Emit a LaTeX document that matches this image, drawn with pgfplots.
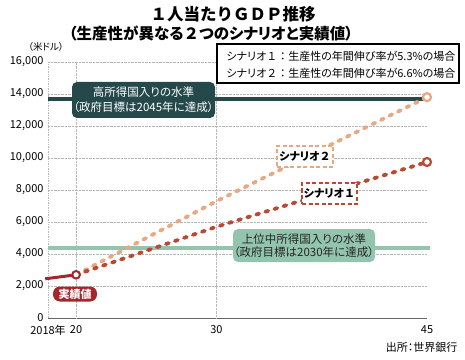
\documentclass[border=0pt]{standalone}
\usepackage{fontspec}
\setmainfont{Noto Sans CJK JP}[RawFeature=+palt]
\newfontfamily\fw{Noto Sans CJK JP}
\usepackage{pgfplots}
\pgfplotsset{compat=1.18}
\definecolor{darkteal}{RGB}{37,72,75}
\definecolor{greenl}{RGB}{147,196,174}
\definecolor{actred}{RGB}{163,38,44}
\definecolor{scenA}{RGB}{184,74,51}
\definecolor{scenB}{RGB}{232,168,130}
\definecolor{gridc}{RGB}{185,185,185}
\begin{document}
\begin{tikzpicture}[x=1pt,y=1pt]
\useasboundingbox (0,0) rectangle (465,359);
\begin{axis}[at={(48pt,41pt)}, anchor=south west, scale only axis,
  width=379pt, height=256pt,
  xmin=2018, xmax=2045, ymin=0, ymax=16000, clip=false,
  axis x line*=bottom, axis y line*=left,
  x axis line style={draw=gray!80!black, line width=0.8pt},
  y axis line style={draw=gridc, densely dotted, line width=0.7pt},
  xtick={2018,2020,2030,2045}, xticklabels={2018年,20,30,45},
  extra x ticks={2020,2030}, extra x tick labels={},
  extra x tick style={xmajorgrids=true, major tick length=0pt},
  ytick={0,2000,...,16000}, ymajorgrids,
  grid style={gridc, densely dotted, line width=0.7pt},
  major tick length=0pt,
  /pgf/number format/assume math mode=true,
  /pgf/number format/1000 sep={,},
  scaled y ticks=false,
  ticklabel style={font=\fontsize{11}{12}\selectfont},
  yticklabel style={xshift=-1pt},
  xticklabel style={yshift=-4pt},
]
\addplot[darkteal, line width=4pt] coordinates {(2018,13700) (2045,13700)};
\addplot[greenl, line width=4pt] coordinates {(2018,4400) (2045.2,4400)};
\addplot[scenB, line width=3.8pt, line cap=round, dash pattern=on 3pt off 6.5pt] coordinates {(2020,2700) (2030,7300) (2045,13800)};
\addplot[scenA, line width=3.8pt, line cap=round, dash pattern=on 3pt off 6.5pt] coordinates {(2020,2700) (2030,5700) (2045,9750)};
\addplot[actred, line width=3pt] coordinates {(2017.8,2450) (2020,2700)};
\addplot[only marks, mark=*, mark size=4pt, mark options={fill=white, draw=scenB, line width=2.2pt}] coordinates {(2045,13800)};
\addplot[only marks, mark=*, mark size=4pt, mark options={fill=white, draw=scenA, line width=2.2pt}] coordinates {(2045,9750)};
\addplot[only marks, mark=*, mark size=3.8pt, mark options={fill=white, draw=actred, line width=2pt}] coordinates {(2020,2700)};
\end{axis}
% labels
\node[font=\fw\bfseries\fontsize{16.5}{18}\selectfont, anchor=center] at (233,345) {１人当たりＧＤＰ推移};
\node[font=\bfseries\fontsize{15.5}{18}\selectfont, anchor=center] at (211,325) {（生産性が異なる{\fw ２}つのシナリオと実績値）};
\node[font=\fontsize{9.5}{10}\selectfont] at (46,312) {（米ドル）};
\node[draw=black, line width=1.6pt, fill=white, minimum width=242pt, minimum height=39pt, inner sep=0pt] at (338,295.5) {};
\node[anchor=west, font=\fontsize{11}{12}\selectfont] at (223,303) {シナリオ{\fw １：}生産性の年間伸び率が5.3\%の場合};
\node[anchor=west, font=\fontsize{11}{12}\selectfont] at (223,286) {シナリオ{\fw ２：}生産性の年間伸び率が6.6\%の場合};
\node[fill=darkteal, rounded corners=5pt, minimum width=143pt, minimum height=36pt, inner sep=0pt, text=white, align=center, font=\fontsize{11.5}{15}\selectfont] at (143.5,259) {高所得国入りの水準\\（政府目標は2045年に達成）};
\node[fill=greenl, rounded corners=5pt, minimum width=142pt, minimum height=33pt, inner sep=0pt, text=black!85, align=center, font=\fontsize{11.5}{13}\selectfont] at (304,113.5) {上位中所得国入りの水準\\（政府目標は2030年に達成）};
\node[fill=actred, rounded corners=7pt, minimum width=44pt, minimum height=15pt, inner sep=0pt, text=white, font=\bfseries\fontsize{11}{12}\selectfont] at (75,65) {実績値};
\node[fill=white, draw=scenB, line width=1.6pt, dash pattern=on 4pt off 2.5pt, minimum width=56pt, minimum height=21pt, inner sep=0pt, font=\bfseries\fontsize{11}{12}\selectfont] at (305,202.5) {シナリオ{\fw\bfseries ２}};
\node[fill=white, draw=scenA, line width=1.6pt, dash pattern=on 4pt off 2.5pt, minimum width=55pt, minimum height=21pt, inner sep=0pt, font=\bfseries\fontsize{11}{12}\selectfont] at (329.5,165.5) {シナリオ{\fw\bfseries １}};
\node[anchor=east, font=\fontsize{11}{12}\selectfont] at (461,12) {出所：世界銀行};
\end{tikzpicture}
\end{document}
